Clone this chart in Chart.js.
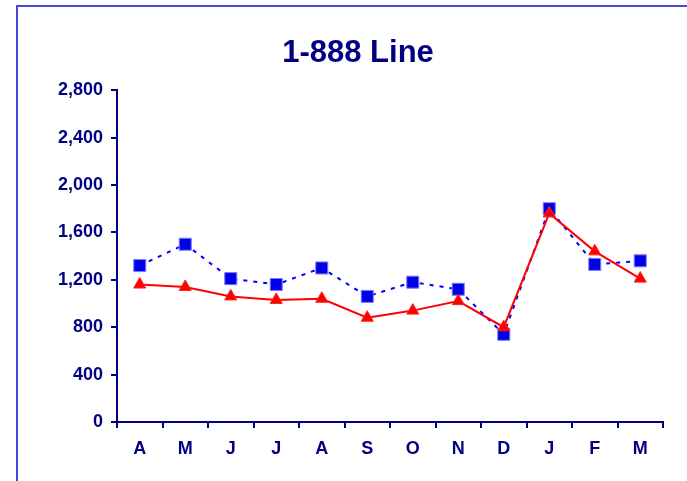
<!DOCTYPE html>
<html>
<head>
<meta charset="utf-8">
<script src="https://cdn.jsdelivr.net/npm/chart.js@4.4.0/dist/chart.umd.min.js"></script>
<style>
  html, body { margin: 0; padding: 0; background: #fff; }
  #wrap { position: relative; width: 687px; height: 481px; }
  #frame { position: absolute; left: 16px; top: 5px; right: -10px; bottom: -10px;
           border-left: 2px solid #4646dc; border-top: 2px solid #4646dc; }
  canvas { position: absolute; left: 0; top: 0; }
</style>
</head>
<body>
<div id="wrap">
  <div id="frame"></div>
  <canvas id="lineChart" width="687" height="481"></canvas>
</div>
<script>
const months = ['A', 'M', 'J', 'J', 'A', 'S', 'O', 'N', 'D', 'J', 'F', 'M'];
const redValues = [1160, 1140, 1060, 1030, 1040, 880, 940, 1020, 800, 1760, 1440, 1210];
const blueValues = [1320, 1500, 1210, 1160, 1300, 1060, 1180, 1120, 740, 1800, 1330, 1360];
const yMin = 0, yMax = 2800, yStep = 400;

const navy = '#000080';
const axisFont = { family: 'Liberation Sans, Arial, sans-serif', size: 18, weight: 'bold' };

new Chart(document.getElementById('lineChart').getContext('2d'), {
    type: 'line',
    data: {
        labels: months,
        datasets: [
            {
                data: redValues,
                borderColor: '#ff0000',
                borderWidth: 2,
                pointStyle: 'triangle',
                pointRadius: 7,
                pointBackgroundColor: '#ff0000',
                pointBorderColor: '#ff2020',
                pointBorderWidth: 1,
                tension: 0
            },
            {
                data: blueValues,
                borderColor: '#0000ff',
                borderWidth: 2,
                borderDash: [4, 6],
                pointStyle: 'rect',
                pointRadius: 8.5,
                pointBackgroundColor: '#0000e8',
                pointBorderColor: '#7a7aff',
                pointBorderWidth: 1,
                tension: 0
            }
        ]
    },
    options: {
        responsive: false,
        animation: false,
        layout: { padding: { left: 53, right: 24, top: 0, bottom: 0 } },
        plugins: {
            legend: { display: false },
            tooltip: { enabled: false },
            title: {
                display: true,
                text: '1-888 Line',
                color: navy,
                font: { family: 'Liberation Sans, Arial, sans-serif', size: 31, weight: 'bold' },
                padding: { top: 35, bottom: 18 }
            }
        },
        scales: {
            x: {
                offset: true,
                grid: { display: true, offset: true, drawOnChartArea: false, color: navy, lineWidth: 2, tickLength: 6 },
                border: { display: true, color: navy, width: 2 },
                ticks: { color: navy, font: axisFont, padding: 10, maxRotation: 0, autoSkip: false },
                afterFit: axis => { axis.height = 59; }
            },
            y: {
                min: yMin,
                max: yMax,
                ticks: { stepSize: yStep, color: navy, font: axisFont, padding: 8 },
                grid: { display: true, drawOnChartArea: false, color: navy, lineWidth: 2, tickLength: 6 },
                border: { display: true, color: navy, width: 2 },
                afterFit: axis => { axis.width = 64; }
            }
        }
    }
});
</script>
</body>
</html>
